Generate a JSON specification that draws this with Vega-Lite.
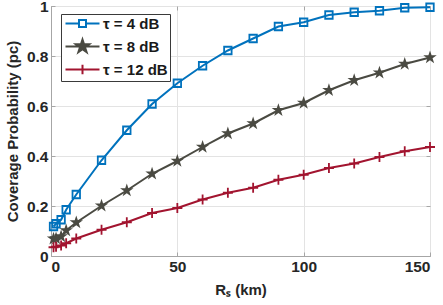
{
  "$schema": "https://vega.github.io/schema/vega-lite/v6.json",
  "width": 379,
  "height": 250,
  "autosize": {"type": "none"},
  "padding": {"left": 51, "top": 6, "right": 13, "bottom": 49},
  "config": {
    "font": "Liberation Sans",
    "view": {"stroke": "#a6a6a6", "strokeWidth": 1},
    "axis": {
      "labelFont": "Liberation Sans", "labelFontWeight": "bold", "labelFontSize": 15.5, "labelColor": "#262626",
      "titleFont": "Liberation Sans", "titleFontWeight": "bold", "titleFontSize": 15, "titleColor": "#262626",
      "domainColor": "#a6a6a6", "tickColor": "#a6a6a6", "gridColor": "#e3e3e3", "gridOpacity": 1,
      "tickSize": -4, "labelPadding": 7
    },
    "legend": {
      "labelFont": "Liberation Sans", "labelFontWeight": "bold", "labelFontSize": 15, "labelColor": "#1a1a1a"
    }
  },
  "data": {"values": [
    {"r": 1, "p": 0.118, "s": "τ = 4 dB"},
    {"r": 2, "p": 0.129, "s": "τ = 4 dB"},
    {"r": 4, "p": 0.145, "s": "τ = 4 dB"},
    {"r": 6, "p": 0.185, "s": "τ = 4 dB"},
    {"r": 10, "p": 0.246, "s": "τ = 4 dB"},
    {"r": 20, "p": 0.383, "s": "τ = 4 dB"},
    {"r": 30, "p": 0.503, "s": "τ = 4 dB"},
    {"r": 40, "p": 0.608, "s": "τ = 4 dB"},
    {"r": 50, "p": 0.691, "s": "τ = 4 dB"},
    {"r": 60, "p": 0.761, "s": "τ = 4 dB"},
    {"r": 70, "p": 0.822, "s": "τ = 4 dB"},
    {"r": 80, "p": 0.870, "s": "τ = 4 dB"},
    {"r": 90, "p": 0.918, "s": "τ = 4 dB"},
    {"r": 100, "p": 0.935, "s": "τ = 4 dB"},
    {"r": 110, "p": 0.964, "s": "τ = 4 dB"},
    {"r": 120, "p": 0.975, "s": "τ = 4 dB"},
    {"r": 130, "p": 0.981, "s": "τ = 4 dB"},
    {"r": 140, "p": 0.993, "s": "τ = 4 dB"},
    {"r": 150, "p": 0.995, "s": "τ = 4 dB"},
    {"r": 1, "p": 0.069, "s": "τ = 8 dB"},
    {"r": 2, "p": 0.070, "s": "τ = 8 dB"},
    {"r": 4, "p": 0.078, "s": "τ = 8 dB"},
    {"r": 6, "p": 0.102, "s": "τ = 8 dB"},
    {"r": 10, "p": 0.134, "s": "τ = 8 dB"},
    {"r": 20, "p": 0.201, "s": "τ = 8 dB"},
    {"r": 30, "p": 0.262, "s": "τ = 8 dB"},
    {"r": 40, "p": 0.329, "s": "τ = 8 dB"},
    {"r": 50, "p": 0.380, "s": "τ = 8 dB"},
    {"r": 60, "p": 0.436, "s": "τ = 8 dB"},
    {"r": 70, "p": 0.490, "s": "τ = 8 dB"},
    {"r": 80, "p": 0.530, "s": "τ = 8 dB"},
    {"r": 90, "p": 0.583, "s": "τ = 8 dB"},
    {"r": 100, "p": 0.612, "s": "τ = 8 dB"},
    {"r": 110, "p": 0.663, "s": "τ = 8 dB"},
    {"r": 120, "p": 0.703, "s": "τ = 8 dB"},
    {"r": 130, "p": 0.733, "s": "τ = 8 dB"},
    {"r": 140, "p": 0.768, "s": "τ = 8 dB"},
    {"r": 150, "p": 0.794, "s": "τ = 8 dB"},
    {"r": 1, "p": 0.035, "s": "τ = 12 dB"},
    {"r": 2, "p": 0.037, "s": "τ = 12 dB"},
    {"r": 4, "p": 0.042, "s": "τ = 12 dB"},
    {"r": 6, "p": 0.051, "s": "τ = 12 dB"},
    {"r": 10, "p": 0.070, "s": "τ = 12 dB"},
    {"r": 20, "p": 0.105, "s": "τ = 12 dB"},
    {"r": 30, "p": 0.135, "s": "τ = 12 dB"},
    {"r": 40, "p": 0.172, "s": "τ = 12 dB"},
    {"r": 50, "p": 0.192, "s": "τ = 12 dB"},
    {"r": 60, "p": 0.226, "s": "τ = 12 dB"},
    {"r": 70, "p": 0.253, "s": "τ = 12 dB"},
    {"r": 80, "p": 0.273, "s": "τ = 12 dB"},
    {"r": 90, "p": 0.305, "s": "τ = 12 dB"},
    {"r": 100, "p": 0.325, "s": "τ = 12 dB"},
    {"r": 110, "p": 0.352, "s": "τ = 12 dB"},
    {"r": 120, "p": 0.370, "s": "τ = 12 dB"},
    {"r": 130, "p": 0.396, "s": "τ = 12 dB"},
    {"r": 140, "p": 0.419, "s": "τ = 12 dB"},
    {"r": 150, "p": 0.436, "s": "τ = 12 dB"}
  ]},
  "resolve": {"axis": {"x": "independent", "y": "independent"}},
  "layer": [
    {
      "mark": {"type": "line", "strokeWidth": 2},
      "encoding": {
        "x": {"field": "r", "type": "quantitative", "scale": {"domain": [0, 150], "nice": false},
              "axis": {"values": [0, 50, 100, 150], "title": "Rₛ (km)", "titlePadding": 8}},
        "y": {"field": "p", "type": "quantitative", "scale": {"domain": [0, 1], "nice": false},
              "axis": {"values": [0, 0.2, 0.4, 0.6, 0.8, 1], "title": "Coverage Probability (pc)", "titlePadding": 6,
                       "labelExpr": "datum.value == 0 ? '0' : datum.value == 1 ? '1' : format(datum.value, '.1f')",
                       "labelFlush": false,
                       "encode": {"labels": {"update": {"dy": {"signal": "datum.value == 1 ? 3 : 0"}}}}}},
        "color": {"field": "s", "type": "nominal",
          "scale": {"domain": ["τ = 4 dB", "τ = 8 dB", "τ = 12 dB"], "range": ["#0072BD", "#4a4a42", "#A2142F"]},
          "legend": {
            "title": null, "orient": "none", "legendX": 10, "legendY": 8,
            "strokeColor": "#3a3a3a", "fillColor": "white", "padding": 2,
            "symbolSize": 100, "symbolStrokeWidth": 2, "rowPadding": 3, "labelOffset": 25,
            "symbolType": "M-1,0H5.8",
            "encode": {"symbols": {"update": {
              "shape": {"signal": "datum.value === 'τ = 4 dB' ? 'M-1,0H1.7M3.1,0H5.8M1.7,-0.7H3.1V0.7H1.7Z' : datum.value === 'τ = 8 dB' ? 'M-1,0H5.8M2.4,-1.4L2.714,-0.433L3.731,-0.433L2.908,0.165L3.223,1.133L2.4,0.535L1.577,1.133L1.892,0.165L1.069,-0.433L2.086,-0.433Z' : 'M-1,0H5.8M2.4,-0.96V0.96'"},
              "fill": {"signal": "datum.value === 'τ = 8 dB' ? '#4a4a42' : 'transparent'"},
              "fillOpacity": {"value": 1},
              "size": {"value": 100}
            }}}
          }}
      }
    },
    {
      "transform": [{"filter": "datum.s === 'τ = 4 dB'"}],
      "mark": {"type": "point", "shape": "M-1,-1H1V1H-1Z", "size": 56, "strokeWidth": 1.8, "color": "#0072BD", "filled": false, "opacity": 1},
      "encoding": {
        "x": {"field": "r", "type": "quantitative", "axis": {"orient": "top", "values": [0, 50, 100, 150], "labels": false, "title": null, "grid": false, "domain": false}},
        "y": {"field": "p", "type": "quantitative", "axis": {"orient": "right", "values": [0, 0.2, 0.4, 0.6, 0.8, 1], "labels": false, "title": null, "grid": false, "domain": false}}
      }
    },
    {
      "transform": [{"filter": "datum.s === 'τ = 8 dB'"}],
      "mark": {"type": "point", "shape": "M0,-1L0.2245,-0.309L0.951,-0.309L0.363,0.118L0.588,0.809L0,0.382L-0.588,0.809L-0.363,0.118L-0.951,-0.309L-0.2245,-0.309Z", "size": 200, "strokeWidth": 1, "color": "#4a4a42", "filled": true, "opacity": 1},
      "encoding": {
        "x": {"field": "r", "type": "quantitative", "axis": null},
        "y": {"field": "p", "type": "quantitative", "axis": null}
      }
    },
    {
      "transform": [{"filter": "datum.s === 'τ = 12 dB'"}],
      "mark": {"type": "point", "shape": "M-1,0H1M0,-1V1", "size": 100, "strokeWidth": 1.8, "color": "#A2142F", "filled": false, "opacity": 1},
      "encoding": {
        "x": {"field": "r", "type": "quantitative", "axis": null},
        "y": {"field": "p", "type": "quantitative", "axis": null}
      }
    }
  ]
}
